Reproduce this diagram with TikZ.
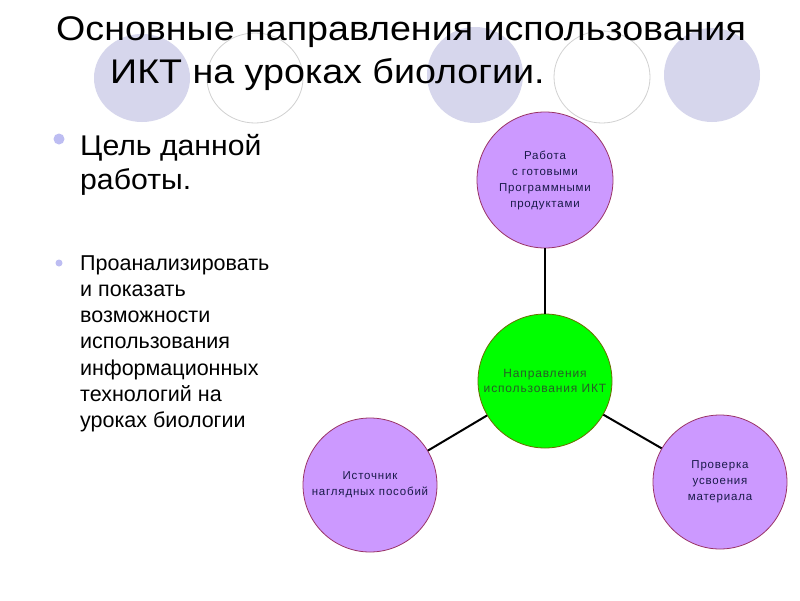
\documentclass[tikz,border=0pt]{standalone}
\usepackage{fontspec}
\setmainfont{Liberation Sans}
\newfontfamily\widefont[FakeStretch=1.1]{Liberation Sans}
\newfontfamily\goalfont[FakeStretch=1.06]{Liberation Sans}
\newfontfamily\spacedfont[LetterSpace=7]{Liberation Sans}
\usetikzlibrary{positioning}

\definecolor{discgray}{HTML}{D6D6EC}
\definecolor{bulletblue}{HTML}{BDBDF2}
\definecolor{lilac}{HTML}{CC99FF}
\definecolor{lilacedge}{HTML}{993366}
\definecolor{ink}{HTML}{1A1A4A}
\definecolor{hubgreen}{HTML}{00FF00}
\definecolor{hubedge}{HTML}{6B6B00}
\definecolor{hubink}{HTML}{285C28}

\begin{document}
\begin{tikzpicture}[x=1pt,y=-1pt,
  topdisc/.style={fill=discgray},
  topring/.style={draw=black!18,line width=0.8pt},
  branch/.style={circle,draw=lilacedge,fill=lilac,line width=0.8pt,minimum size=134pt,
    inner sep=0pt,align=center,text=ink,font=\spacedfont\fontsize{11.5}{16}\selectfont},
  hub/.style={branch,draw=hubedge,fill=hubgreen,text=hubink,font=\spacedfont\fontsize{12}{15.5}\selectfont},
  link/.style={line width=2pt}]
  \useasboundingbox [fill=white] (0,0) rectangle (800,600);

  \fill [topdisc] (142,78) ellipse [x radius=48,y radius=44];
  \draw [topring] (255,78) ellipse [x radius=48,y radius=45];
  \fill [topdisc] (475,75) ellipse [x radius=48,y radius=48];
  \draw [topring] (602,77) ellipse [x radius=48,y radius=46];
  \fill [topdisc] (712,75) ellipse [x radius=48,y radius=47];

  \node (title1) [anchor=base west,inner sep=0pt,font=\widefont\fontsize{34.2}{40}\selectfont] at (56,40) {Основные направления использования};
  \node (title2) [anchor=base west,inner sep=0pt,font=\widefont\fontsize{34.2}{40}\selectfont] at (110,83) {ИКТ на уроках биологии.};

  \fill [bulletblue] (59,139) circle [radius=5.5];
  \node (goal) [anchor=north west,inner sep=0pt,align=left,font=\goalfont\fontsize{28.5}{34}\selectfont] at (80,134) {Цель данной\\работы.};
  \fill [bulletblue] (59,263) circle [radius=3.5];
  \node (aim) [anchor=north west,inner sep=0pt,align=left,font=\fontsize{21.5}{26.3}\selectfont] at (80,255) {Проанализировать\\и показать\\возможности\\использования\\информационных\\технологий на\\уроках биологии};

  \node (ready) [branch,minimum size=136pt] at (545,180) {Работа\\с готовыми\\Программными\\продуктами};
  \node (ict) [hub] at (545,381) {Направления\\использования ИКТ};
  \node (visual) [branch] at (370,485) {Источник\\наглядных пособий};
  \node (check) [branch] at (720,482) {Проверка\\усвоения\\материала};

  \draw [link] (ready) -- (ict);
  \draw [link] (ict) -- (visual);
  \draw [link] (ict) -- (check);
\end{tikzpicture}
\end{document}
